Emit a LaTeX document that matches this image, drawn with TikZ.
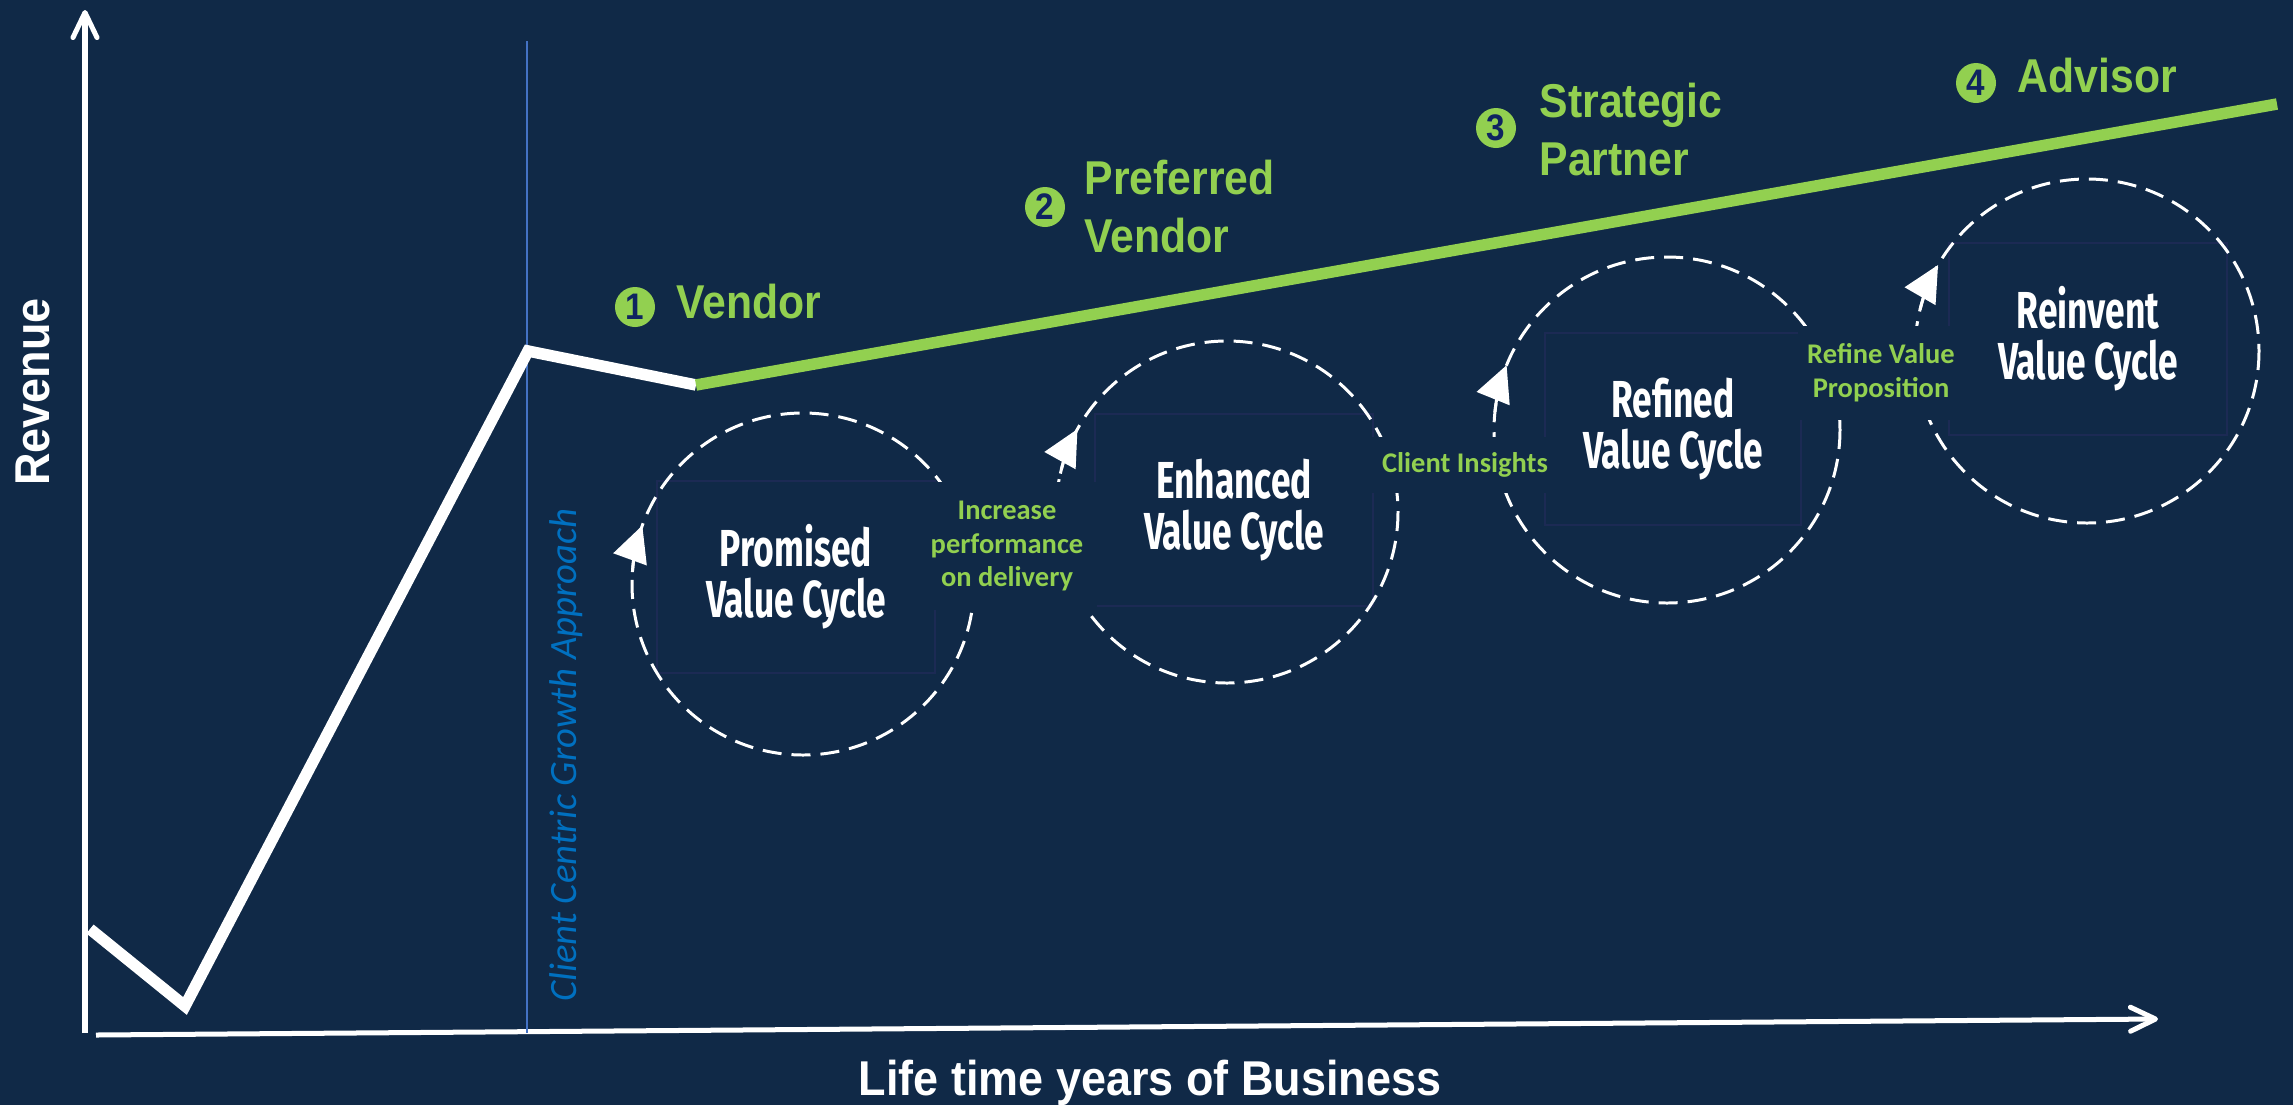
\documentclass[tikz,border=0pt]{standalone}
\usepackage{fontspec}
\usetikzlibrary{arrows.meta}
\setmainfont{Liberation Sans}
\newfontfamily\headfont[FakeStretch=0.92]{Liberation Sans}
\newfontfamily\stagefont[FakeStretch=0.9]{Liberation Sans}
\newfontfamily\cyclefont[FakeStretch=0.68]{Fira Sans}
\newfontfamily\notefont{Carlito}
\definecolor{bg}{RGB}{16,41,71}
\definecolor{lime}{HTML}{92D050}
\definecolor{guide}{HTML}{4472C4}
\definecolor{guidetext}{HTML}{0070C0}
\definecolor{numink}{HTML}{0F2460}
\definecolor{boxline}{RGB}{28,42,84}

\tikzset{
  axisline/.style={white, line width=0.05cm, -{Straight Barb[length=0.25cm,width=0.24cm,round]}},
  trend/.style={line width=0.115cm, line join=miter},
  cycleloop/.style={white, line width=0.85pt, dash pattern=on 0.19cm off 0.1cm},
  cycletip/.style={white, line width=0.85pt, -{Triangle[length=0.36cm,width=0.35cm]}},
  cyclebox/.style={draw=boxline, line width=0.6pt, minimum width=2.78cm, minimum height=1.92cm,
    inner sep=0pt, text=white, align=center, font=\cyclefont\bfseries\fontsize{14.8}{14.5}\selectfont},
  stepnote/.style={fill=bg, inner sep=0pt, text=lime, align=center,
    font=\notefont\bfseries\fontsize{8.1}{9.6}\selectfont},
  stagebadge/.style={circle, fill=lime, minimum size=0.4cm, inner sep=0pt, text=numink,
    font=\stagefont\bfseries\fontsize{10.5}{10.5}\selectfont},
  stagename/.style={anchor=base west, align=left, text=lime, inner sep=0pt,
    font=\stagefont\bfseries\fontsize{13.5}{16.3}\selectfont},
  axistitle/.style={text=white, inner sep=0pt, font=\headfont\bfseries\fontsize{13.9}{15}\selectfont},
}

\begin{document}
\begin{tikzpicture}[x=0.01cm,y=-0.01cm]
\fill[bg] (0,0) rectangle (2293,1105);
\useasboundingbox (0,0) rectangle (2293,1105);

% axes
\coordinate (origin) at (85,1033);
\coordinate (ytip) at (85,10);
\coordinate (xstart) at (96,1035);
\coordinate (xtip) at (2158,1019);
\draw[axisline] (origin) -- (ytip);
\draw[axisline] (xstart) -- (xtip);

% start of the client centric approach
\coordinate (gtop) at (527,41);
\coordinate (gbot) at (527,1033);
\draw[guide, line width=0.6pt] (gtop) -- (gbot);
\node[rotate=90, text=guidetext, inner sep=0pt, font=\notefont\itshape\fontsize{11}{12}\selectfont]
  (approach) at (566,755) {Client Centric Growth Approach};

% revenue over time
\coordinate (r0) at (90,929);
\coordinate (r1) at (185,1006);
\coordinate (r2) at (528,351);
\coordinate (r3) at (696,385);
\coordinate (g1) at (2277,104);
\draw[trend, white] (r0) -- (r1) -- (r2) -- (r3);
\draw[trend, lime] (r3) -- (g1);

% cycle centres
\coordinate (pc) at (803,584);
\coordinate (ec) at (1227,512);
\coordinate (rc) at (1667,430);
\coordinate (vc) at (2087,351);

% cycle titles
\node[cyclebox] (promised) at (796,577) {Promised\\Value Cycle};
\node[cyclebox] (enhanced) at (1234,510) {Enhanced\\Value Cycle};
\node[cyclebox, minimum width=2.55cm] (refined) at (1673,429) {Refined\\Value Cycle};
\node[cyclebox] (reinvent) at (2088,339) {Reinvent\\Value Cycle};

% dashed loops
\draw[cycleloop] (pc) circle[radius=171];
\draw[cycleloop] (ec) circle[radius=171];
\draw[cycleloop] (rc) circle[radius=173];
\draw[cycleloop] (vc) circle[radius=172];

% transitions between cycles
\node[stepnote, minimum width=1.8cm, minimum height=1.28cm] (increase) at (1007,546)
  {Increase\\performance\\on delivery};
\node[stepnote, minimum width=1.9cm, minimum height=0.56cm] (insights) at (1465,465)
  {Client Insights};
\node[stepnote, minimum width=1.66cm, minimum height=0.94cm] (refine) at (1881,373)
  {Refine Value\\Proposition};

% direction of each loop
\draw[cycletip] (pc) ++(-176:171) arc[start angle=-176, end angle=-160, radius=171];
\draw[cycletip] (ec) ++(-167:171) arc[start angle=-167, end angle=-151, radius=171];
\draw[cycletip] (rc) ++(-174:173) arc[start angle=-174, end angle=-158, radius=173];
\draw[cycletip] (vc) ++(-166:172) arc[start angle=-166, end angle=-150, radius=172];

% relationship stages
\node[stagebadge] (b1) at (635,307) {1};
\node[stagename] (s1) at (676,318) {Vendor};
\node[stagebadge] (b2) at (1045,207) {2};
\node[stagename] (s2) at (1084,252) {Preferred\\Vendor};
\node[stagebadge] (b3) at (1496,128) {3};
\node[stagename] (s3) at (1539,175) {Strategic\\Partner};
\node[stagebadge] (b4) at (1976,83) {4};
\node[stagename] (s4) at (2017,92) {Advisor};

% axis titles
\node[axistitle, rotate=90] (ylabel) at (33,392) {Revenue};
\node[axistitle, anchor=base] (xlabel) at (1150,1095) {Life time years of Business};
\end{tikzpicture}
\end{document}
